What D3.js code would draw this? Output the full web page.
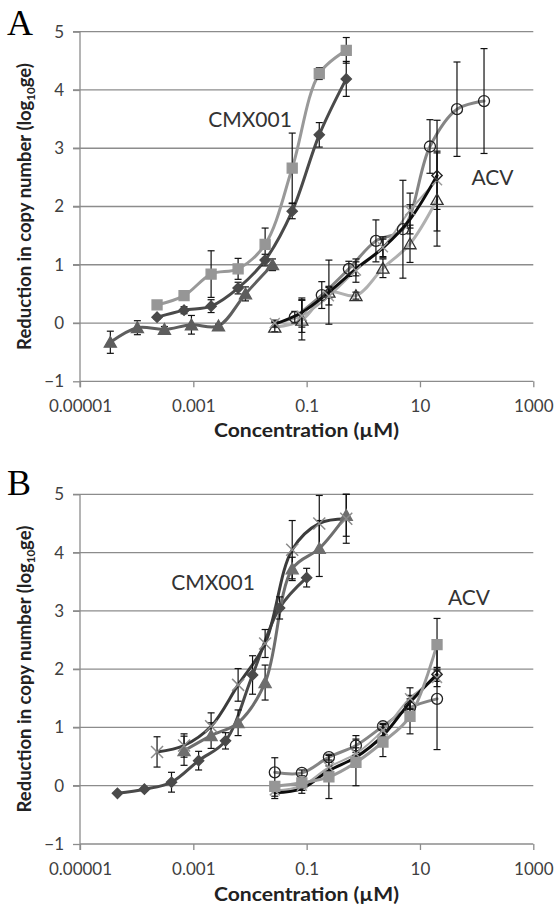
<!DOCTYPE html>
<html>
<head>
<meta charset="utf-8">
<script src="https://cdn.jsdelivr.net/npm/d3@7"></script>
<style>
  html, body { margin: 0; padding: 0; background: #fff; }
  svg { display: block; }
  text { font-family: Lato, "Open Sans", sans-serif; }
</style>
</head>
<body>
<svg id="chart" width="556" height="908"></svg>
<script>
// ---------------- DATA ----------------
const xTickValues = [1e-5, 1e-3, 1e-1, 10, 1000];
const xTickLabels = ["0.00001", "0.001", "0.1", "10", "1000"];
const yTickValues = [-1, 0, 1, 2, 3, 4, 5];

// concentrations (µM) — threefold dilution series
const concCmx8   = [0.000229, 0.000686, 0.00206, 0.00617, 0.0185, 0.0556, 0.167, 0.5];
const concCmx7   = [0.000686, 0.00206, 0.00617, 0.0185, 0.0556, 0.167, 0.5];
const concCmxLow = [0.0000343, 0.000103, 0.000309, 0.000926, 0.00278, 0.00833, 0.025];
const concCmxB   = [0.0000458, 0.000137, 0.000412, 0.00124, 0.0037, 0.0111, 0.0333, 0.1];
const concAcv7   = [0.0274, 0.0823, 0.247, 0.741, 2.22, 6.67, 20];
const concAcv8   = [0.0617, 0.185, 0.556, 1.67, 5, 15, 45, 135];

// Panel A — CMX001
const aCmxSquare    = [0.31, 0.47, 0.84, 0.93, 1.35, 2.66, 4.28, 4.68];
const aCmxSquareErr = [0.04, 0.05, 0.40, 0.18, 0.28, 0.60, 0.10, 0.22];
const aCmxDiamond    = [0.10, 0.22, 0.29, 0.60, 1.08, 1.92, 3.23, 4.19];
const aCmxDiamondErr = [0.03, 0.06, 0.11, 0.10, 0.10, 0.13, 0.21, 0.30];
const aCmxTriangle    = [-0.33, -0.08, -0.11, -0.03, -0.05, 0.50, 1.00];
const aCmxTriangleErr = [0.19, 0.12, 0.05, 0.16, 0.03, 0.12, 0.10];
// Panel A — ACV
const aAcvCircle    = [0.10, 0.48, 0.93, 1.41, 1.61, 3.03, 3.67, 3.81];
const aAcvCircleErr = [0.10, 0.23, 0.13, 0.36, 0.84, 0.46, 0.81, 0.90];
const aAcvTriangle    = [-0.07, 0.05, 0.53, 0.47, 0.94, 1.36, 2.12];
const aAcvTriangleErr = [0.08, 0.34, 0.55, 0.06, 0.16, 0.32, 0.80];
const aAcvCross    = [0.00, 0.12, 0.46, 0.90, 1.30, 1.93, 2.45];
const aAcvCrossErr = [0.05, 0.28, 0.15, 0.20, 0.18, 0.30, 0.50];
const aAcvDiamond    = [-0.02, 0.18, 0.53, 0.93, 1.29, 1.78, 2.53];
const aAcvDiamondErr = [0.05, 0.25, 0.10, 0.12, 0.15, 0.25, 0.95];

// Panel B — CMX001
const bCmxCross    = [0.58, 0.69, 1.02, 1.73, 2.44, 4.05, 4.50, 4.58];
const bCmxCrossErr = [0.26, 0.20, 0.23, 0.28, 0.24, 0.50, 0.48, 0.42];
const bCmxTriangle    = [0.60, 0.86, 1.08, 1.77, 3.72, 4.07, 4.64];
const bCmxTriangleErr = [0.25, 0.22, 0.22, 0.30, 0.20, 0.48, 0.36];
const bCmxDiamond    = [-0.13, -0.06, 0.06, 0.43, 0.77, 1.90, 3.05, 3.57];
const bCmxDiamondErr = [0.02, 0.03, 0.17, 0.16, 0.14, 0.33, 0.19, 0.16];
// Panel B — ACV
const bAcvSquare    = [-0.01, 0.05, 0.15, 0.40, 0.75, 1.19, 2.42];
const bAcvSquareErr = [0.05, 0.05, 0.37, 0.40, 0.25, 0.30, 0.45];
const bAcvCircle    = [0.23, 0.22, 0.49, 0.69, 1.02, 1.34, 1.49];
const bAcvCircleErr = [0.25, 0.05, 0.05, 0.17, 0.05, 0.10, 0.87];
const bAcvCross    = [-0.08, 0.00, 0.32, 0.55, 0.95, 1.50, 1.85];
const bAcvCrossErr = [0.10, 0.08, 0.08, 0.10, 0.10, 0.18, 0.15];
const bAcvDiamond    = [-0.12, -0.05, 0.26, 0.49, 0.86, 1.43, 1.91];
const bAcvDiamondErr = [0.10, 0.08, 0.08, 0.08, 0.10, 0.12, 0.12];

// ---------------- DRAW ----------------
const svg = d3.select("#chart");
const x = d3.scaleLog().domain([1e-5, 1000]).range([80, 533.3]);

function zip(xs, ys, es) { return xs.map((c, i) => ({ c, v: ys[i], e: es[i] })); }

function markerPath(type, s) {
  const h = s / 2;
  switch (type) {
    case "square": return `M${-h},${-h}h${s}v${s}h${-s}Z`;
    case "diamond": return `M0,${-h * 1.15}L${h * 1.15},0L0,${h * 1.15}L${-h * 1.15},0Z`;
    case "triangle": return `M0,${-h * 1.05}L${h * 1.1},${h * 0.9}L${-h * 1.1},${h * 0.9}Z`;
    case "circle": return d3.symbol(d3.symbolCircle, Math.PI * h * h)();
    case "x": return `M${-h},${-h}L${h},${h}M${h},${-h}L${-h},${h}`;
  }
}

const panels = [
  {
    letter: "A", letterY: 35, top: 31.7, bottom: 381.3, xLabY: 408, titleY: 437,
    labels: [{ t: "CMX001", x: 250, y: 127 }, { t: "ACV", x: 492.5, y: 185 }],
    series: [
      { d: zip(concCmxLow, aCmxTriangle, aCmxTriangleErr), line: "#5e5e5e", w: 3, m: "triangle", mf: "#5e5e5e", ms: "#5e5e5e", sz: 11 },
      { d: zip(concCmx8, aCmxDiamond, aCmxDiamondErr), line: "#4a4a4a", w: 3, m: "diamond", mf: "#4a4a4a", ms: "#4a4a4a", sz: 9 },
      { d: zip(concCmx8, aCmxSquare, aCmxSquareErr), line: "#999999", w: 3, m: "square", mf: "#969696", ms: "#969696", sz: 10 },
      { d: zip(concAcv8, aAcvCircle, aAcvCircleErr), line: "#858585", w: 3, m: "circle", mf: "none", ms: "#222", sz: 11 },
      { d: zip(concAcv7, aAcvTriangle, aAcvTriangleErr), line: "#b0b0b0", w: 3, m: "triangle", mf: "none", ms: "#333", sz: 11 },
      { d: zip(concAcv7, aAcvCross, aAcvCrossErr), line: "#a8a8a8", w: 2, m: "x", mf: "none", ms: "#9a9a9a", sz: 10 },
      { d: zip(concAcv7, aAcvDiamond, aAcvDiamondErr), line: "#0d0d0d", w: 3, m: "diamond", mf: "none", ms: "#222", sz: 9, lastOnly: true }
    ]
  },
  {
    letter: "B", letterY: 495, top: 494.3, bottom: 844, xLabY: 871, titleY: 901,
    labels: [{ t: "CMX001", x: 213, y: 590 }, { t: "ACV", x: 469, y: 605 }],
    series: [
      { d: zip(concCmxB, bCmxDiamond, bCmxDiamondErr), line: "#4a4a4a", w: 3, m: "diamond", mf: "#4a4a4a", ms: "#4a4a4a", sz: 9 },
      { d: zip(concCmx7, bCmxTriangle, bCmxTriangleErr), line: "#6e6e6e", w: 3, m: "triangle", mf: "#6e6e6e", ms: "#6e6e6e", sz: 11 },
      { d: zip(concCmx8, bCmxCross, bCmxCrossErr), line: "#3c3c3c", w: 3, m: "x", mf: "none", ms: "#8a8a8a", sz: 12 },
      { d: zip(concAcv7, bAcvCircle, bAcvCircleErr), line: "#858585", w: 3, m: "circle", mf: "none", ms: "#222", sz: 11 },
      { d: zip(concAcv7, bAcvCross, bAcvCrossErr), line: "#a8a8a8", w: 2, m: "x", mf: "none", ms: "#9a9a9a", sz: 10 },
      { d: zip(concAcv7, bAcvDiamond, bAcvDiamondErr), line: "#0d0d0d", w: 3, m: "diamond", mf: "none", ms: "#222", sz: 9, lastOnly: true },
      { d: zip(concAcv7, bAcvSquare, bAcvSquareErr), line: "#9a9a9a", w: 3, m: "square", mf: "#969696", ms: "#969696", sz: 10 }
    ]
  }
];

panels.forEach(p => {
  const y = d3.scaleLinear().domain([-1, 5]).range([p.bottom, p.top]);
  const g = svg.append("g");

  // gridlines
  g.append("g").selectAll("line").data(yTickValues.filter(v => v > -1)).join("line")
    .attr("x1", 73).attr("x2", 533.3)
    .attr("y1", d => y(d)).attr("y2", d => y(d))
    .attr("stroke", "#8c8c8c").attr("stroke-width", 1.3);

  // y axis
  const ya = g.append("g").attr("transform", "translate(80,0)")
    .call(d3.axisLeft(y).tickValues(yTickValues).tickSize(7).tickPadding(9).tickFormat(d3.format("d")));
  ya.select(".domain").attr("stroke", "#8c8c8c").attr("stroke-width", 1.3)
    .attr("d", `M0,${p.top}V${p.bottom + 6}`);
  ya.selectAll(".tick line").attr("stroke", "#8c8c8c").attr("stroke-width", 1.3);
  ya.selectAll(".tick text").attr("fill", "#404040").style("font-size", "17px")
    .style("font-family", "Lato, sans-serif");

  // x axis
  const xa = g.append("g").attr("transform", `translate(0,${p.bottom})`)
    .call(d3.axisBottom(x).tickValues(xTickValues).tickSize(6)
      .tickFormat((d, i) => xTickLabels[i]));
  xa.select(".domain").attr("stroke", "#8c8c8c").attr("stroke-width", 1.3)
    .attr("d", `M80,0H533.3`);
  xa.selectAll(".tick line").attr("stroke", "#8c8c8c").attr("stroke-width", 1.3);
  xa.selectAll(".tick text").attr("fill", "#404040").style("font-size", "17px")
    .style("font-family", "Lato, sans-serif").attr("y", null).attr("dy", null)
    .attr("transform", `translate(0,${p.xLabY - p.bottom})`)
    .attr("dominant-baseline", "middle");

  // series lines
  const line = d3.line().x(d => x(d.c)).y(d => y(d.v)).curve(d3.curveCatmullRom.alpha(0.5));
  p.series.forEach(s => {
    g.append("path").attr("d", line(s.d)).attr("fill", "none")
      .attr("stroke", s.line).attr("stroke-width", s.w)
      .attr("stroke-linejoin", "round").attr("stroke-linecap", "round");
  });
  // error bars (below markers so filled markers hide the short ones)
  p.series.forEach(s => {
    const eb = g.append("g").attr("stroke", "#111").attr("stroke-width", 1.2);
    s.d.forEach(d => {
      const cx = x(d.c), y1 = y(d.v - d.e), y2 = y(d.v + d.e);
      eb.append("line").attr("x1", cx).attr("x2", cx).attr("y1", y1).attr("y2", y2);
      eb.append("line").attr("x1", cx - 3.5).attr("x2", cx + 3.5).attr("y1", y1).attr("y2", y1);
      eb.append("line").attr("x1", cx - 3.5).attr("x2", cx + 3.5).attr("y1", y2).attr("y2", y2);
    });
  });
  // markers
  p.series.forEach(s => {
    const pts = s.lastOnly ? s.d.slice(-1) : s.d;
    g.append("g").selectAll("path").data(pts).join("path")
      .attr("transform", d => `translate(${x(d.c)},${y(d.v)})`)
      .attr("d", markerPath(s.m, s.sz))
      .attr("fill", s.mf).attr("stroke", s.ms)
      .attr("stroke-width", s.m === "x" ? 1.5 : 1.3);
  });

  // annotations
  p.labels.forEach(l => {
    g.append("text").attr("x", l.x).attr("y", l.y).attr("text-anchor", "middle")
      .attr("fill", "#333").style("font-size", "21px").text(l.t);
  });

  // panel letter
  g.append("text").attr("x", 7).attr("y", p.letterY)
    .style("font-family", "'Liberation Serif', 'Times New Roman', serif")
    .style("font-size", "36px").attr("fill", "#000").text(p.letter);

  // x title
  g.append("text").attr("x", 306.5).attr("y", p.titleY).attr("text-anchor", "middle")
    .attr("fill", "#222").style("font-size", "19px").style("font-weight", "bold")
    .attr("textLength", 185).attr("lengthAdjust", "spacingAndGlyphs")
    .text("Concentration (µM)");

  // y title
  const cy = (p.top + p.bottom) / 2;
  const yt = g.append("text").attr("transform", `translate(31,${cy}) rotate(-90)`)
    .attr("text-anchor", "middle").attr("fill", "#222")
    .style("font-size", "18.5px").style("font-weight", "bold");
  yt.append("tspan").text("Reduction in copy number (log");
  yt.append("tspan").attr("dy", 4).style("font-size", "11.5px").text("10");
  yt.append("tspan").attr("dy", -4).text("ge)");
});
</script>
</body>
</html>
